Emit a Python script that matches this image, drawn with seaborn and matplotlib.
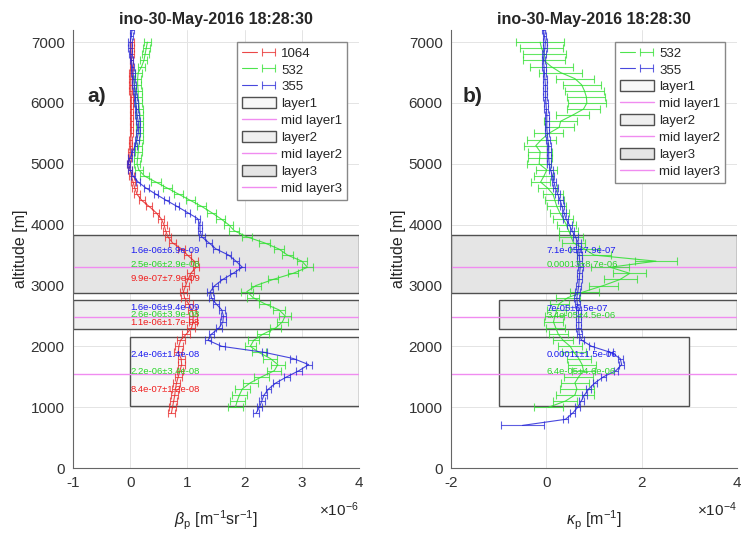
import numpy as np
import matplotlib
matplotlib.use('Agg')
import matplotlib.pyplot as plt
import seaborn as sns
from matplotlib.patches import Rectangle
from matplotlib.legend_handler import HandlerTuple

# ---- data -------------------------------------------------------------
title = 'ino-30-May-2016 18:28:30'

# altitude grids [m]
alt_1064 = np.arange(900, 7001, 100)
alt_532a = np.arange(1000, 7001, 100)
alt_355a = np.arange(900, 7201, 100)
alt_532b = np.arange(1000, 7001, 100)
alt_355b = np.arange(700, 7201, 100)

# backscatter beta_p [1e-6 m-1 sr-1]
beta_1064 = [0.72, 0.74, 0.76, 0.78, 0.79, 0.81, 0.84, 0.87, 0.90, 0.89,
             0.84, 0.85, 0.88, 0.98, 1.07, 1.10, 1.10, 1.08, 1.02, 0.95,
             0.93, 0.97, 1.01, 1.06, 1.15, 1.12, 1.00, 0.90, 0.74, 0.66,
             0.62, 0.59, 0.54, 0.45, 0.33, 0.20, 0.12, 0.08, 0.05, 0.02,
             0.00, -0.03, -0.01, 0.00, 0.01, 0.01, 0.02, 0.02, 0.02, 0.02,
             0.02, 0.02, 0.02, 0.01, 0.01, 0.01, 0.01, 0.02, 0.02, 0.03,
             0.03, 0.03]
err_1064 = [0.06, 0.06, 0.06, 0.06, 0.06, 0.06, 0.06, 0.06, 0.06, 0.06,
            0.07, 0.07, 0.07, 0.07, 0.07, 0.07, 0.07, 0.07, 0.07, 0.07,
            0.06, 0.06, 0.06, 0.06, 0.06, 0.06, 0.06, 0.06, 0.06, 0.06,
            0.05, 0.05, 0.05, 0.05, 0.05, 0.05, 0.05, 0.04, 0.04, 0.04,
            0.03, 0.03, 0.03, 0.03, 0.03, 0.03, 0.03, 0.03, 0.03, 0.03,
            0.03, 0.03, 0.03, 0.03, 0.03, 0.03, 0.03, 0.03, 0.03, 0.03,
            0.03, 0.03]

beta_532 = [1.84, 1.87, 1.91, 1.96, 2.10, 2.30, 2.52, 2.58, 2.45, 2.25,
            2.10, 2.16, 2.32, 2.54, 2.66, 2.71, 2.60, 2.35, 2.15, 2.04,
            2.20, 2.50, 2.85, 3.10, 3.00, 2.75, 2.60, 2.35, 2.04, 1.82,
            1.72, 1.58, 1.42, 1.25, 1.05, 0.85, 0.65, 0.45, 0.25, 0.15,
            0.12, 0.13, 0.14, 0.15, 0.17, 0.17, 0.17, 0.17, 0.17, 0.16,
            0.15, 0.14, 0.14, 0.13, 0.13, 0.14, 0.20, 0.24, 0.26, 0.28,
            0.30]
err_532 = [0.13, 0.13, 0.13, 0.13, 0.13, 0.13, 0.12, 0.12, 0.12, 0.12,
           0.10, 0.10, 0.10, 0.10, 0.10, 0.10, 0.10, 0.10, 0.10, 0.10,
           0.09, 0.09, 0.09, 0.09, 0.09, 0.09, 0.09, 0.09, 0.09, 0.09,
           0.08, 0.08, 0.08, 0.08, 0.08, 0.08, 0.08, 0.08, 0.07, 0.07,
           0.06, 0.06, 0.06, 0.06, 0.06, 0.06, 0.06, 0.06, 0.06, 0.06,
           0.06, 0.06, 0.06, 0.06, 0.06, 0.06, 0.06, 0.06, 0.06, 0.06,
           0.06]

beta_355 = [2.20, 2.26, 2.30, 2.34, 2.42, 2.55, 2.74, 2.95, 3.12, 2.85,
            2.35, 1.60, 1.36, 1.42, 1.55, 1.62, 1.63, 1.60, 1.50, 1.42,
            1.40, 1.48, 1.62, 1.80, 1.96, 1.85, 1.72, 1.50, 1.38, 1.25,
            1.22, 1.22, 1.18, 1.00, 0.82, 0.63, 0.45, 0.28, 0.14, 0.05,
            0.00, -0.03, 0.00, 0.04, 0.09, 0.12, 0.14, 0.15, 0.14, 0.12,
            0.11, 0.10, 0.09, 0.08, 0.07, 0.06, 0.05, 0.04, 0.02, 0.01,
            0.00, 0.00, 0.02, 0.03]
err_355 = [0.05, 0.05, 0.05, 0.05, 0.05, 0.05, 0.05, 0.05, 0.05, 0.05,
           0.05, 0.05, 0.05, 0.05, 0.05, 0.05, 0.05, 0.05, 0.05, 0.05,
           0.05, 0.05, 0.05, 0.05, 0.05, 0.05, 0.05, 0.05, 0.05, 0.05,
           0.04, 0.04, 0.04, 0.04, 0.04, 0.04, 0.04, 0.04, 0.04, 0.04,
           0.03, 0.03, 0.03, 0.03, 0.03, 0.03, 0.03, 0.03, 0.03, 0.03,
           0.03, 0.03, 0.03, 0.03, 0.03, 0.03, 0.03, 0.03, 0.03, 0.03,
           0.03, 0.03, 0.03, 0.03]

# extinction kappa_p [1e-4 m-1]
kappa_532 = [0.05, 0.40, 0.60, 0.64, 0.60, 0.68, 0.78, 0.75, 0.68, 0.58,
             0.50, 0.35, 0.25, 0.20, 0.15, 0.18, 0.22, 0.27, 0.45, 0.80,
             1.20, 1.55, 1.75, 1.34, 2.30, 1.00, 0.80, 0.57, 0.52, 0.47,
             0.42, 0.35, 0.28, 0.22, 0.18, 0.14, 0.03, -0.12, -0.05, 0.01,
             -0.15, -0.14, -0.13, -0.22, -0.10, 0.05, 0.27, 0.30, 0.55, 0.78,
             0.85, 0.84, 0.80, 0.74, 0.60, 0.30, 0.10, -0.05, -0.04, -0.10,
             -0.13]
kerr_532 = [0.30, 0.25, 0.40, 0.35, 0.30, 0.30, 0.25, 0.30, 0.25, 0.25,
            0.25, 0.20, 0.20, 0.20, 0.20, 0.20, 0.20, 0.20, 0.25, 0.30,
            0.30, 0.35, 0.35, 0.40, 0.45, 0.35, 0.30, 0.25, 0.25, 0.20,
            0.20, 0.20, 0.20, 0.20, 0.20, 0.20, 0.20, 0.20, 0.20, 0.22,
            0.25, 0.25, 0.25, 0.25, 0.30, 0.30, 0.30, 0.35, 0.35, 0.35,
            0.40, 0.40, 0.40, 0.40, 0.40, 0.45, 0.45, 0.45, 0.45, 0.45,
            0.50]

kappa_355 = [-0.50, 0.40, 0.55, 0.66, 0.73, 0.80, 0.89, 1.02, 1.20, 1.46,
             1.58, 1.55, 1.35, 0.95, 0.74, 0.69, 0.68, 0.68, 0.68, 0.67,
             0.65, 0.64, 0.66, 0.68, 0.69, 0.70, 0.71, 0.70, 0.69, 0.68,
             0.67, 0.61, 0.54, 0.48, 0.41, 0.37, 0.33, 0.29, 0.24, 0.19,
             0.16, 0.13, 0.09, 0.06, 0.05, 0.05, 0.05, 0.03, 0.02, 0.01,
             0.01, 0.01, 0.00, -0.01, -0.02, -0.02, -0.02, -0.03, -0.04, -0.05,
             -0.06, -0.05, -0.03, -0.02, -0.04, -0.06]
kerr_355 = [0.45, 0.05, 0.05, 0.05, 0.05, 0.05, 0.05, 0.05, 0.05, 0.05,
            0.05, 0.05, 0.05, 0.05, 0.05, 0.05, 0.05, 0.05, 0.05, 0.05,
            0.05, 0.05, 0.05, 0.05, 0.05, 0.05, 0.05, 0.05, 0.05, 0.05,
            0.05, 0.05, 0.05, 0.05, 0.05, 0.05, 0.05, 0.05, 0.05, 0.05,
            0.04, 0.04, 0.04, 0.04, 0.04, 0.04, 0.04, 0.04, 0.04, 0.04,
            0.04, 0.04, 0.04, 0.04, 0.04, 0.04, 0.04, 0.04, 0.04, 0.04,
            0.04, 0.04, 0.04, 0.04, 0.04, 0.04]

# layers (layer1 lowest)
layer_names = ['layer1', 'layer2', 'layer3']
layer_bottom = [1021, 2279, 2880]
layer_top = [2152, 2766, 3825]
layer_mid = [1546, 2487, 3311]
layer_xspan_a = [(0, 4), (-1, 4), (-1, 4)]
layer_xspan_b = [(-1, 3), (-1, 4), (-2, 4)]

# per-layer mean +- std labels (355, 532, 1064)
anno_a_txt = [['2.4e-06±1.4e-08', '2.2e-06±3.4e-08', '8.4e-07±1.2e-08'],
              ['1.6e-06±9.4e-09', '2.6e-06±3.9e-08', '1.1e-06±1.7e-08'],
              ['1.6e-06±6.9e-09', '2.5e-06±2.9e-08', '9.9e-07±7.9e-09']]
anno_a_alt = [[1869, 1579, 1295], [2645, 2519, 2398], [3574, 3344, 3115]]
anno_b_txt = [['0.00011±1.5e-06', '6.4e-05±4.6e-06'],
              ['7e-05±6.5e-07', '3.4e-05±4.5e-06'],
              ['7.1e-05±7.9e-07', '0.00013±8.7e-06']]
anno_b_alt = [[1864, 1579], [2628, 2508], [3574, 3340]]

# ---- style ------------------------------------------------------------
sns.set_theme(style='whitegrid')
plt.rcParams.update({
    'font.family': ['Liberation Sans', 'DejaVu Sans'],
    'mathtext.fontset': 'custom',
    'mathtext.rm': 'Liberation Sans',
    'mathtext.it': 'Liberation Sans:italic',
    'axes.unicode_minus': False,
    'axes.edgecolor': '#666666',
    'axes.linewidth': 0.8,
    'grid.color': '#e4e4e4',
    'grid.linewidth': 0.7,
    'xtick.direction': 'in',
    'ytick.direction': 'in',
    'xtick.color': '#333333',
    'ytick.color': '#333333',
    'xtick.labelsize': 11,
    'ytick.labelsize': 11,
})

c_red = '#e82828'
c_green = '#2ee02e'
c_blue = '#2828d8'
t_red = '#f01c1c'
t_green = '#28d428'
t_blue = '#1c1cf0'
mid_color = '#f08cf0'
layer_fill = ['#f7f7f7', '#efefef', '#e5e5e5']


def draw_profile(ax, vals, alt, err, color):
    sns.lineplot(x=vals, y=alt, orient='y', sort=False, estimator=None,
                 color=color, lw=0.8, alpha=0.85, ax=ax, legend=False, zorder=3)
    line = ax.lines[-1]
    eb = ax.errorbar(vals, alt, xerr=err, fmt='none', ecolor=color,
                     elinewidth=0.8, capsize=3, capthick=0.8, alpha=0.75, zorder=3)
    return (line, eb)


def draw_layers(ax, spans):
    handles = []
    for i in range(3):
        x0, x1 = spans[i]
        r = Rectangle((x0, layer_bottom[i]), x1 - x0, layer_top[i] - layer_bottom[i],
                      facecolor=layer_fill[i], edgecolor='#505050', lw=1.0, zorder=1)
        ax.add_patch(r)
        ln = ax.axhline(layer_mid[i], color=mid_color, lw=1.0, zorder=2)
        handles += [Rectangle((0, 0), 1, 1, facecolor=layer_fill[i],
                              edgecolor='#505050', lw=1.0), ln]
    return handles


def style_axes(ax, xlim, xticks):
    ax.set_xlim(*xlim)
    ax.set_ylim(0, 7200)
    ax.set_xticks(xticks)
    ax.set_yticks(range(0, 7001, 1000))
    ax.grid(True)
    ax.set_axisbelow(True)
    for s in ['top', 'right']:
        ax.spines[s].set_visible(False)
    ax.tick_params(length=4, width=0.8, pad=6)
    ax.set_title(title, fontsize=11.5, fontweight='bold', pad=4)
    ax.set_ylabel('altitude [m]', fontsize=11.5, labelpad=2)


fig = plt.figure(figsize=(7.43, 5.33), dpi=100)
ax_a = fig.add_axes([73 / 743, 65 / 533, 286 / 743, 438 / 533])
ax_b = fig.add_axes([451 / 743, 65 / 533, 286 / 743, 438 / 533])

layer_labels = []
for n in layer_names:
    layer_labels += [n, 'mid ' + n]

leg_kw = dict(handler_map={tuple: HandlerTuple(ndivide=None)},
              loc='upper right', fontsize=9.5, frameon=True, fancybox=False,
              framealpha=1, edgecolor='#888888', borderaxespad=0.9,
              handlelength=2.6, handleheight=0.9, labelspacing=0.3,
              handletextpad=0.4, borderpad=0.35)

# ---- panel a ----
lay_a = draw_layers(ax_a, layer_xspan_a)
h1064 = draw_profile(ax_a, beta_1064, alt_1064, err_1064, c_red)
h532 = draw_profile(ax_a, beta_532, alt_532a, err_532, c_green)
h355 = draw_profile(ax_a, beta_355, alt_355a, err_355, c_blue)
for i in range(3):
    for txt, alt, col in zip(anno_a_txt[i], anno_a_alt[i], [t_blue, t_green, t_red]):
        ax_a.text(0, alt, txt, color=col, fontsize=6.8, va='center', ha='left', zorder=5)
style_axes(ax_a, (-1, 4), [-1, 0, 1, 2, 3, 4])
ax_a.set_xlabel(r'$\beta_{\mathrm{p}}$ [m$^{-1}$sr$^{-1}$]', fontsize=11.5, labelpad=13)
ax_a.text(1.0, -0.095, r'$\times10^{-6}$', transform=ax_a.transAxes,
          ha='right', va='center', fontsize=11)
ax_a.text(-0.59, 6115, 'a)', fontsize=15, fontweight='bold', ha='center', va='center')
ax_a.legend(handles=[h1064, h532, h355] + lay_a,
            labels=['1064', '532', '355'] + layer_labels, **leg_kw)

# ---- panel b ----
lay_b = draw_layers(ax_b, layer_xspan_b)
k532 = draw_profile(ax_b, kappa_532, alt_532b, kerr_532, c_green)
k355 = draw_profile(ax_b, kappa_355, alt_355b, kerr_355, c_blue)
for i in range(3):
    for txt, alt, col in zip(anno_b_txt[i], anno_b_alt[i], [t_blue, t_green]):
        ax_b.text(0, alt, txt, color=col, fontsize=6.8, va='center', ha='left', zorder=5)
style_axes(ax_b, (-2, 4), [-2, 0, 2, 4])
ax_b.set_xlabel(r'$\kappa_{\mathrm{p}}$ [m$^{-1}$]', fontsize=11.5, labelpad=13)
ax_b.text(1.0, -0.095, r'$\times10^{-4}$', transform=ax_b.transAxes,
          ha='right', va='center', fontsize=11)
ax_b.text(-1.55, 6115, 'b)', fontsize=15, fontweight='bold', ha='center', va='center')
ax_b.legend(handles=[k532, k355] + lay_b,
            labels=['532', '355'] + layer_labels, **leg_kw)

fig.savefig('out.png', dpi=100)
